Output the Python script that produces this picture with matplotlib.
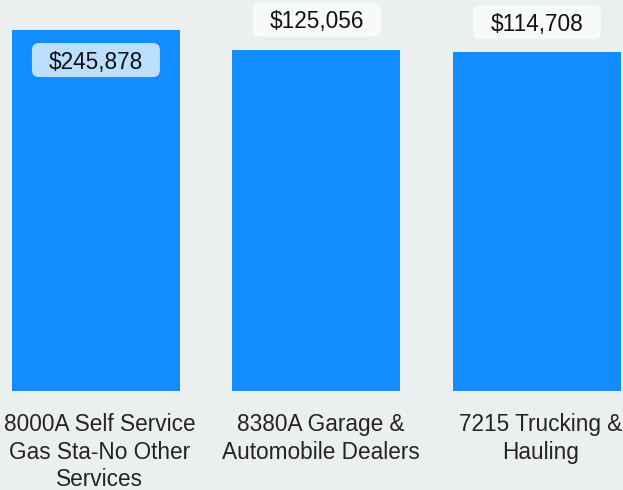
import textwrap
import matplotlib
matplotlib.use("Agg")
import matplotlib.pyplot as plt
import matplotlib.transforms as mtransforms
from matplotlib.patches import FancyBboxPatch

plt.rcParams['font.family'] = ['Liberation Sans', 'DejaVu Sans']

# premium by class code
categories = [
    "8000A Self Service Gas Sta-No Other Services",
    "8380A Garage & Automobile Dealers",
    "7215 Trucking & Hauling",
]
values = [245878, 125056, 114708]

BG = "#ECEFF0"
BAR = "#118DFF"
TEXT = "#252423"

fig = plt.figure(figsize=(6.23, 4.90), dpi=100, facecolor=BG)
ax = fig.add_axes([0, 99.5 / 490, 1, 390.5 / 490])
ax.set_facecolor(BG)

x = list(range(len(values)))
ax.bar(x, values, width=0.762, color=BAR, zorder=2)
ax.set_yscale("log")
ax.set_ylim(1, 10 ** 5.84)
ax.set_xlim(-0.435, 2.39)

for s in ax.spines.values():
    s.set_visible(False)
ax.set_yticks([])
ax.minorticks_off()
ax.set_xticks(x)
ax.set_xticklabels([textwrap.fill(c, width=18) for c in categories],
                   fontsize=16.3, color=TEXT, linespacing=1.27)
ax.tick_params(axis="x", length=0, pad=16)
# nudge category labels a little to the right
shift = mtransforms.ScaledTranslation(0.04, 0, fig.dpi_scale_trans)
for lbl in ax.get_xticklabels():
    lbl.set_transform(lbl.get_transform() + shift)

# data labels: above the bar, or inside when there is no room above
fig.canvas.draw()
for i, v in zip(x, values):
    top_px = ax.transData.transform((i, v))[1]
    ax_top = ax.transAxes.transform((0, 1))[1]
    inside = ax_top - top_px < 45
    trans = fig.dpi_scale_trans + mtransforms.ScaledTranslation(i, v, ax.transData)
    dy = -0.30 if inside else 0.30
    box = FancyBboxPatch((-0.64 + 0.07, dy - 0.17 + 0.07), 1.28 - 0.14, 0.34 - 0.14,
                         boxstyle="round,pad=0.07",
                         transform=trans, clip_on=False, zorder=3,
                         facecolor="#BCDEFF" if inside else "#F8F9F9",
                         edgecolor="none")
    ax.add_patch(box)
    ax.text(0, dy - 0.02, f"${v:,}", transform=trans, ha="center", va="center",
            fontsize=16.3, color="#111111", zorder=4)

fig.savefig("out.png", dpi=100, facecolor=BG)
